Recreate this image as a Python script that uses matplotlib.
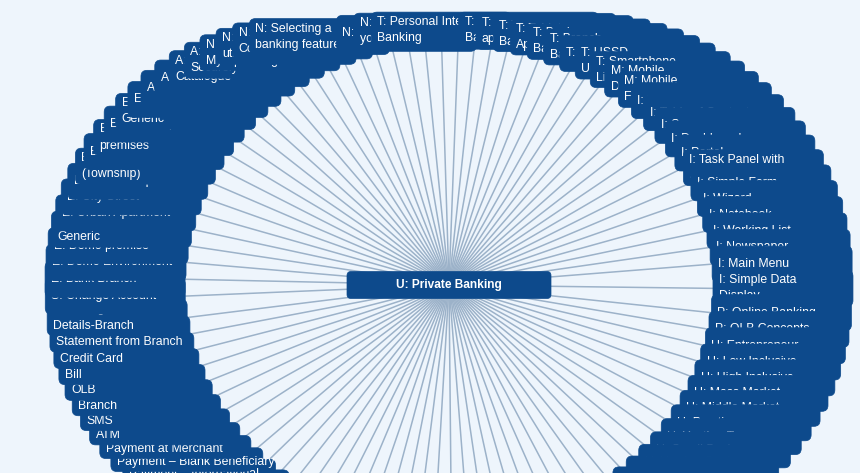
import numpy as np
import matplotlib.pyplot as plt
from matplotlib.patches import FancyBboxPatch
from matplotlib.collections import LineCollection

# root node and its leaves, clockwise starting at the bottom
root = "U: Private Banking"
labels = [
    "S: Open a\nSavings Account", "S: Open a\nCheque Account",
    "S: Apply for\nHome Loan", "S: Apply for\nVehicle Finance", "S: Apply for\nPersonal Loan",
    "S: Buy Prepaid\nAirtime", "S: Buy Prepaid\nElectricity", "S: Transfer Funds\nbetween Accounts",
    "S: Pay\nBeneficiary", "S: Stop\nDebit Order", "S: Make a\nPayment – Once-off",
    "S: Make a\nPayment – Recurring", "S: Make a\nPayment – International",
    "S: Make a\nPayment – Blank Beneficiary", "S: Make a\nPayment at Merchant",
    "S: Withdraw Cash at\nATM", "S: Check Balance via\nSMS", "S: Deposit Cash at\nBranch",
    "S: Apply for Credit on\nOLB", "S: Pay Credit Card\nBill", "S: Request Limit on\nCredit Card",
    "S: Request\nStatement from Branch", "S: Change Account\nDetails-Branch", "S: Change Account",
    "E: Bank Branch", "E: Demo Environment", "E: Demo premise",
    "E: Urban Apartment\nGeneric", "E: Urban Apartment", "E: City Street", "E: Retail Shop",
    "E: Bank Branch\n(Township)", "E: Bank Branch", "E: Business\npremises", "E: Township",
    "E: Office Space\nGeneric", "E: Office Space", "A: Static Data Table", "A: Log In",
    "A: Search\nCatalogue", "A: Sign Up\nSecurely", "N: Monitor\nMy Spending",
    "N: Pay\nutilities", "N: Compare\nCosts", "N: Selecting a\nbanking feature",
    "N: Transfer Money", "N: Check\nyour Balance",
    "T: Personal Internet\nBanking", "T: Internet\nBanking", "T: Cellphone\napp",
    "T: Telephone\nBanking", "T: Tablet\nApp", "T: Business\nBanking",
    "T: Branch\nBanking", "T: ATM", "T: USSD\nUnstructured", "T: Smartphone\nLite app",
    "M: Mobile\nDevice", "M: Mobile\nFeature Phone",
    "I: Tabbed Content", "I: Table of Contents", "I: Summary", "I: Dashboard", "I: Portal",
    "I: Task Panel with\nShortcuts", "I: Simple Form", "I: Wizard", "I: Notebook",
    "I: Working List", "I: Newspaper", "I: Main Menu", "I: Simple Data\nDisplay",
    "P: Online Banking", "P: OLB Concepts",
    "U: Entrepreneur", "U: Low Inclusive", "U: High Inclusive", "U: Mass Market",
    "U: Middle Market", "U: Prestige", "U: Youth – Teen", "U: Small Business",
    "U: Youth – Student", "U: Senior Citizen", "U: Young Professional", "U: Wealth",
    "U: Commercial", "U: Corporate", "U: Public Sector", "U: Non-Resident",
    "U: Farmer", "U: Pensioner", "U: Informal Trader", "U: Student",
]

bg = "#eef5fc"
navy = "#0d4a8c"
spoke = "#9cb2c9"

W, H = 860, 473
cx, cy = 449, 285      # centre of the tree
rx, ry = 264, 255      # ellipse the leaves sit on
box_w, box_h = 140, 36
top_leaf = labels.index("T: Personal Internet\nBanking")

fig = plt.figure(figsize=(W / 100, H / 100), dpi=100, facecolor=bg)
ax = fig.add_axes([0, 0, 1, 1])
ax.set_facecolor(bg)
ax.set_xlim(0, W)
ax.set_ylim(H, 0)
ax.axis('off')

# angular spacing: one slot per leaf, a bit more for two-line leaves
# that sit level with the root (where the boxes stack vertically)
n = len(labels)
lines = np.array([lab.count("\n") + 1 for lab in labels])
ang = 1.5 * np.pi + (np.arange(n) - top_leaf) * 2 * np.pi / n
for _ in range(30):
    mid = ang + np.pi / n
    level = np.clip((np.abs(np.cos(mid)) - 0.99) / 0.01, 0, 1)
    gap = 1 + 0.5 * (lines + np.roll(lines, -1) - 2) * level
    pos = np.concatenate([[0], np.cumsum(gap[:-1])])
    pos = pos - pos[top_leaf] - 0.45
    ang = 1.5 * np.pi + pos * 2 * np.pi / gap.sum()

nx = cx + rx * np.cos(ang)
ny = cy + ry * np.sin(ang)

segs = [[(cx, cy), (x, y)] for x, y in zip(nx, ny)]
ax.add_collection(LineCollection(segs, colors=spoke, linewidths=1.1, zorder=1))

for i, (lab, x, y, a) in enumerate(zip(labels, nx, ny, ang)):
    c = np.cos(a)
    # boxes hang off the outer side; the few right at the top are centred
    side = 0 if -0.19 < c < 0.02 else np.sign(c)
    left = x - box_w / 2 + side * box_w / 2
    box = FancyBboxPatch((left, y - box_h / 2), box_w, box_h,
                         boxstyle="round,pad=0,rounding_size=6",
                         fc=navy, ec=navy, lw=0.5, zorder=2 + 2 * i)
    ax.add_patch(box)
    txt = ax.text(left + 6, y, lab, color='white', fontsize=8.8,
                  family='Liberation Sans', ha='left', va='center',
                  linespacing=1.45, zorder=3 + 2 * i)
    txt.set_clip_path(box)

# root
rw, rh = 204, 27
ax.add_patch(FancyBboxPatch((cx - rw / 2, cy - rh / 2), rw, rh,
                            boxstyle="round,pad=0,rounding_size=4",
                            fc=navy, ec=navy, lw=0.5, zorder=1000))
ax.text(cx, cy, root, color='white', fontsize=8.6, fontweight='bold',
        family='Liberation Sans', ha='center', va='center', zorder=1001)

fig.savefig('out.png', dpi=100, facecolor=bg)
